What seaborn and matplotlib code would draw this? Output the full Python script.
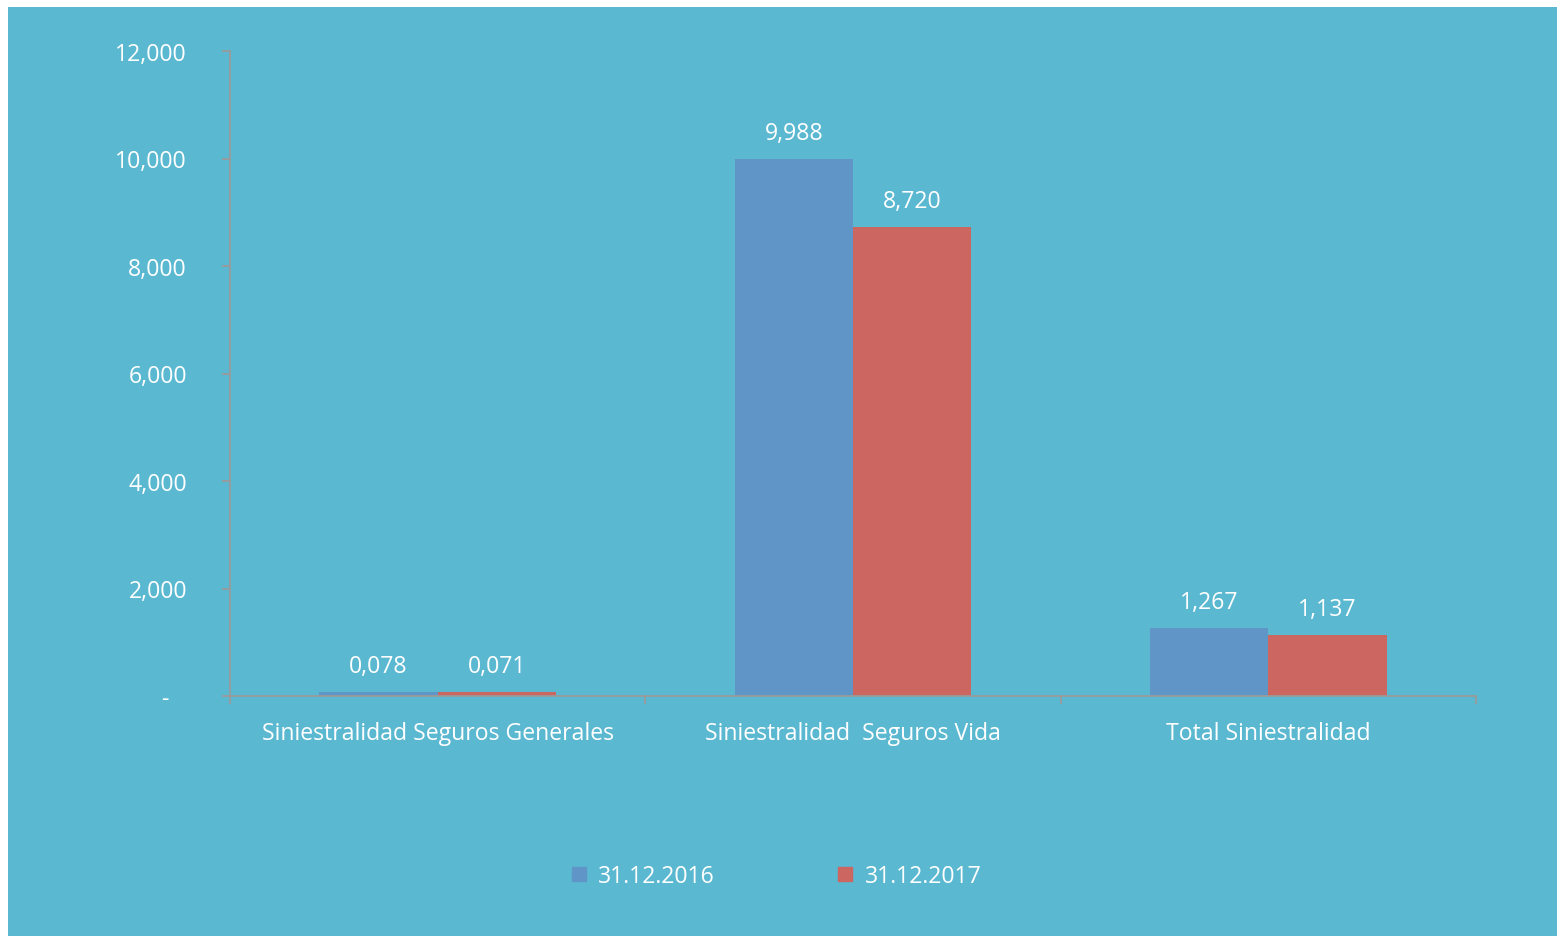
import matplotlib
matplotlib.use("Agg")
import matplotlib.pyplot as plt
from matplotlib.patches import Rectangle
from matplotlib.lines import Line2D
import pandas as pd
import seaborn as sns

# data
categories = ["Siniestralidad Seguros Generales", "Siniestralidad  Seguros Vida", "Total Siniestralidad"]
series = ["31.12.2016", "31.12.2017"]
vals_2016 = [78, 9988, 1267]
vals_2017 = [71, 8720, 1137]
yticks = [0, 2000, 4000, 6000, 8000, 10000, 12000]

bg = "#5BB8D1"
colors = ["#6095C7", "#CC6660"]
axis_col = "#9A9A9A"

df = pd.DataFrame({
    "cat": categories * 2,
    "serie": [series[0]] * 3 + [series[1]] * 3,
    "val": vals_2016 + vals_2017,
})

sns.set_style("white")
plt.rcParams["font.family"] = ["Open Sans", "DejaVu Sans"]
fs = 16.6

fig = plt.figure(figsize=(15.57, 9.37), dpi=100)
fig.patch.set_facecolor(bg)
# thin white margin on top and left
fig.patches.append(Rectangle((0, 1 - 8 / 937), 1, 8 / 937, transform=fig.transFigure,
                             facecolor="white", edgecolor="none", zorder=-1))
fig.patches.append(Rectangle((0, 0), 8 / 1557, 1, transform=fig.transFigure,
                             facecolor="white", edgecolor="none", zorder=-1))

ax = fig.add_axes([230 / 1557, 1 - 697 / 937, (1476 - 230) / 1557, (697 - 52) / 937])
ax.set_facecolor(bg)
sns.barplot(data=df, x="cat", y="val", hue="serie", hue_order=series, order=categories,
            palette=colors, width=0.57, gap=0, saturation=1, ax=ax, legend=False,
            edgecolor="none", linewidth=0)

for cont in ax.containers:
    ax.bar_label(cont, labels=[f"{v:05,.0f}" for v in cont.datavalues],
                 padding=10, color="white", fontsize=fs)

ax.set_ylim(0, 12000)
ax.set_xlim(-0.5, 2.5)
ax.set_yticks(yticks)
ax.set_yticklabels(["-   "] + [f"{v:,}" for v in yticks[1:]])
ax.set_xlabel("")
ax.set_ylabel("")

for s in ["top", "right"]:
    ax.spines[s].set_visible(False)
for s in ["left", "bottom"]:
    ax.spines[s].set_color(axis_col)
    ax.spines[s].set_linewidth(1.3)

ax.tick_params(axis="y", direction="out", length=6, width=1.3, color=axis_col,
               labelcolor="white", labelsize=fs, pad=25, left=True)
ax.tick_params(axis="x", which="major", length=0, labelcolor="white", labelsize=fs, pad=18)
ax.set_xticks([-0.5, 0.5, 1.5, 2.5], minor=True)
ax.tick_params(axis="x", which="minor", direction="out", length=6, width=1.3,
               color=axis_col, bottom=True)

handles = [Line2D([], [], marker="s", linestyle="", markersize=10,
                  markerfacecolor=c, markeredgecolor=c) for c in colors]
fig.legend(handles, series, loc="center", bbox_to_anchor=(776 / 1557, 1 - 877 / 937),
           ncol=2, frameon=False, fontsize=fs, labelcolor="white",
           handlelength=0.7, handletextpad=0.5, columnspacing=5.3)

fig.savefig("out.png", dpi=100, facecolor=fig.get_facecolor())
